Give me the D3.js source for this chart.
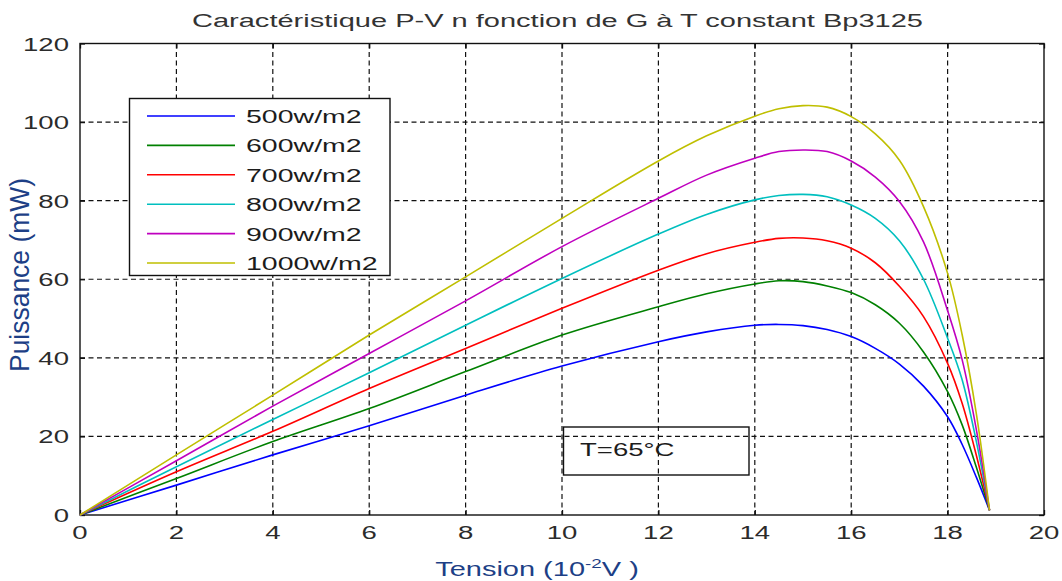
<!DOCTYPE html>
<html><head><meta charset="utf-8">
<script src="https://cdn.jsdelivr.net/npm/d3@7"></script>
<style>body{margin:0;background:#fff} svg{display:block}</style>
</head><body>
<svg id="c" width="1062" height="581"></svg>
<script>
// ---- data ----
const voltage = [0, 2, 4, 6, 8, 10, 12, 13, 14, 14.5, 15, 15.5, 16, 16.5, 17, 17.5, 18, 18.3, 18.6, 18.87];
const p500  = [0, 7.6, 15.3, 22.7, 30.5, 37.9, 44.1, 46.6, 48.3, 48.5, 48.2, 47.2, 45.4, 42.4, 38.4, 32.8, 25.0, 18.0, 9.5, 1.2];
const p600  = [0, 9.3, 18.7, 27.1, 36.5, 45.8, 53.0, 56.3, 58.8, 59.6, 59.4, 58.3, 56.6, 53.5, 48.8, 41.5, 31.4, 23.0, 12.0, 1.2];
const p700  = [0, 11.0, 21.3, 32.2, 42.4, 52.6, 62.3, 66.5, 69.4, 70.4, 70.5, 69.8, 67.9, 64.2, 58.2, 50.5, 38.6, 28.5, 15.0, 1.2];
const p800  = [0, 12.3, 24.3, 36.2, 48.3, 60.2, 71.5, 76.5, 80.2, 81.3, 81.6, 81.0, 78.9, 75.5, 69.8, 60.0, 45.0, 34.5, 18.5, 1.2];
const p900  = [0, 13.8, 27.7, 41.1, 54.5, 68.3, 80.6, 86.5, 90.8, 92.5, 92.9, 92.5, 90.1, 86.0, 79.8, 69.5, 52.0, 39.6, 21.5, 1.2];
const p1000 = [0, 15.3, 30.5, 45.8, 60.6, 75.5, 90.1, 96.5, 101.5, 103.4, 104.2, 103.8, 101.4, 97.0, 90.3, 78.5, 61.5, 46.0, 25.5, 1.2];
const seriesValues = [p500, p600, p700, p800, p900, p1000];
const seriesLabels = ["500w/m2", "600w/m2", "700w/m2", "800w/m2", "900w/m2", "1000w/m2"];
const xTicks = [0, 2, 4, 6, 8, 10, 12, 14, 16, 18, 20];
const yTicks = [0, 20, 40, 60, 80, 100, 120];
const titleText = "Caractéristique P-V n fonction de G à T constant Bp3125";
const noteText = "T=65°C";

// ---- styles ----
const colors = ["#0000ff", "#008000", "#ff0000", "#00bfbf", "#bf00bf", "#bfbf00"];
const FONT = "'Liberation Sans', Arial, Helvetica, sans-serif";
const SX = 1.45;

const svg = d3.select("#c");
const L = 80, R = 1044, T = 43.5, B = 515;
const x = d3.scaleLinear().domain([0, 20]).range([L, R]);
const y = d3.scaleLinear().domain([0, 120]).range([B, T]);

function txt(g, px, py, s, opt = {}) {
  return g.append("text")
    .attr("transform", `translate(${px},${py}) scale(${opt.sx ?? SX},1)`)
    .attr("text-anchor", opt.anchor || "start")
    .attr("font-family", FONT)
    .attr("font-size", opt.size || 19)
    .attr("fill", opt.fill || "#2b2b2b")
    .text(s);
}

// title
svg.append("text")
  .attr("x", 192).attr("y", 27)
  .attr("textLength", 731).attr("lengthAdjust", "spacingAndGlyphs")
  .attr("font-family", FONT).attr("font-size", 18).attr("fill", "#333")
  .text(titleText);

// grid
const grid = svg.append("g").attr("stroke", "#111").attr("stroke-width", 1.2).attr("stroke-dasharray", "5,3.5");
grid.selectAll(".gx").data(xTicks.filter(d => d > 0 && d < 20)).join("line")
  .attr("x1", d => x(d)).attr("x2", d => x(d)).attr("y1", T).attr("y2", B);
grid.selectAll(".gy").data(yTicks.filter(d => d > 0 && d < 120)).join("line")
  .attr("y1", d => y(d)).attr("y2", d => y(d)).attr("x1", L).attr("x2", R);

// axes with inward ticks on all sides
const axB = d3.axisBottom(x).tickValues(xTicks).tickSize(-5).tickFormat("");
const axT = d3.axisTop(x).tickValues(xTicks).tickSize(-5).tickFormat("");
const axLf = d3.axisLeft(y).tickValues(yTicks).tickSize(-5).tickFormat("");
const axRt = d3.axisRight(y).tickValues(yTicks).tickSize(-5).tickFormat("");
[[axB, `translate(0,${B})`], [axT, `translate(0,${T})`], [axLf, `translate(${L},0)`], [axRt, `translate(${R},0)`]].forEach(([a, tr]) => {
  const g = svg.append("g").attr("transform", tr).call(a);
  g.select(".domain").remove();
  g.selectAll("line").attr("stroke", "#111").attr("stroke-width", 1.3);
});
svg.append("rect").attr("x", L).attr("y", T).attr("width", R - L).attr("height", B - T)
  .attr("fill", "none").attr("stroke", "#111").attr("stroke-width", 1.4);

// tick labels
const tl = svg.append("g");
xTicks.forEach(d => txt(tl, x(d), 539, d, { anchor: "middle" }));
yTicks.forEach(d => txt(tl, 69, y(d) + 7, d, { anchor: "end" }));

// axis titles
const xl = svg.append("text")
  .attr("transform", `translate(537,576) scale(${SX},1)`)
  .attr("text-anchor", "middle").attr("font-family", FONT).attr("font-size", 20).attr("fill", "#1d3f86");
xl.append("tspan").text("Tension (10");
xl.append("tspan").attr("font-size", 13).attr("dy", -8).text("-2");
xl.append("tspan").attr("dy", 8).text("V )");

svg.append("text")
  .attr("transform", `translate(29,275) rotate(-90) scale(1,1.35)`)
  .attr("text-anchor", "middle").attr("font-family", FONT).attr("font-size", 20).attr("fill", "#1d3f86")
  .attr("textLength", 194).attr("lengthAdjust", "spacingAndGlyphs")
  .text("Puissance (mW)");

// curves
const line = d3.line().x((d, i) => x(voltage[i])).y(d => y(d)).curve(d3.curveCatmullRom.alpha(0.5));
svg.append("g").selectAll("path").data(seriesValues).join("path")
  .attr("d", line).attr("fill", "none")
  .attr("stroke", (d, i) => colors[i]).attr("stroke-width", 1.6);

// legend
const lg = svg.append("g");
lg.append("rect").attr("x", 129.5).attr("y", 98.5).attr("width", 260.5).attr("height", 177)
  .attr("fill", "#fff").attr("stroke", "#111").attr("stroke-width", 1.4);
seriesLabels.forEach((s, i) => {
  const yy = 116 + i * 29.4;
  lg.append("line").attr("x1", 147).attr("x2", 235).attr("y1", yy).attr("y2", yy)
    .attr("stroke", colors[i]).attr("stroke-width", 1.6);
  txt(lg, 246, yy + 7, s, { size: 19, fill: "#1c1c1c", sx: 1.5 });
});

// annotation box
const nb = svg.append("g");
nb.append("rect").attr("x", 563.5).attr("y", 427).attr("width", 185.5).attr("height", 48)
  .attr("fill", "none").attr("stroke", "#111").attr("stroke-width", 1.4);
txt(nb, 580, 456, noteText, { size: 19, fill: "#1c1c1c" });
</script>
</body></html>
